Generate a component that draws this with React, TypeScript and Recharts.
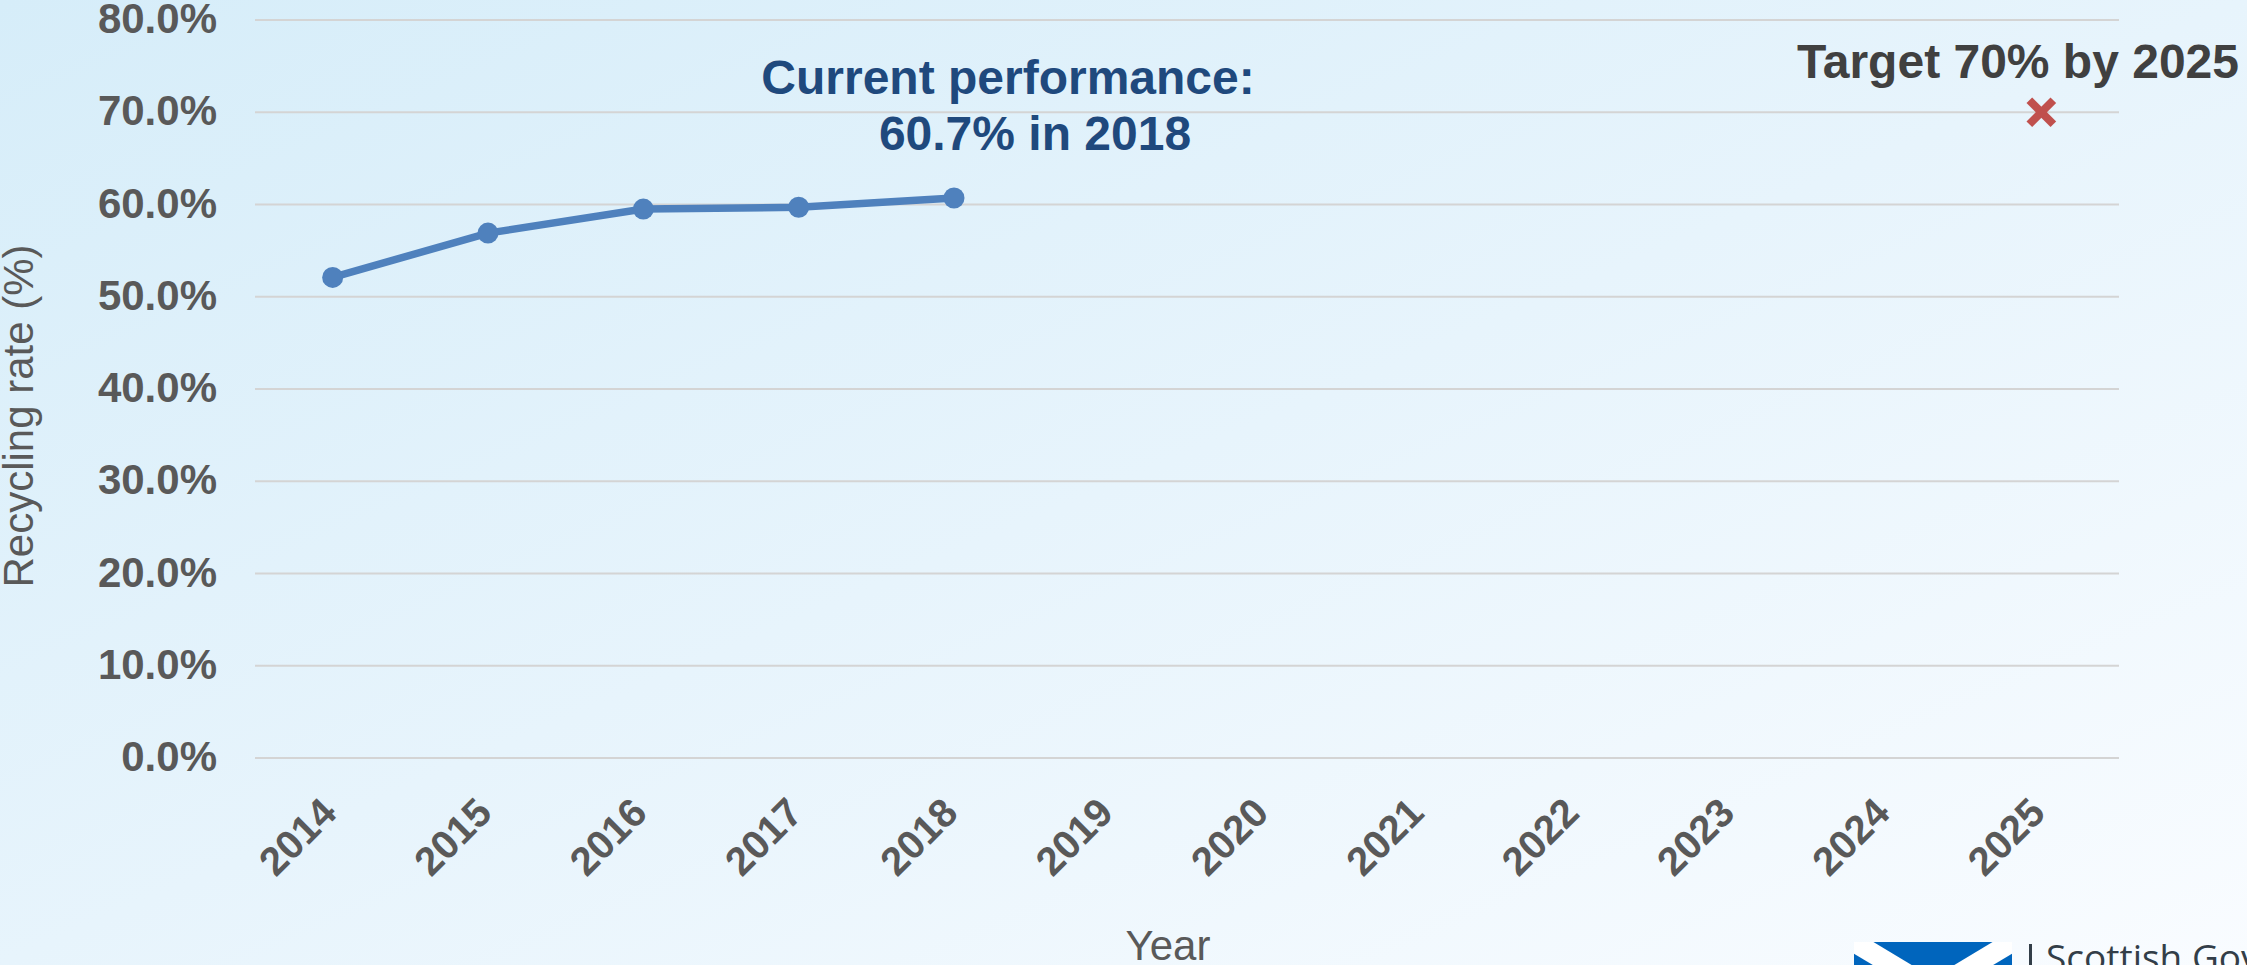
import React from 'react';
import { ComposedChart, Line, XAxis, YAxis, CartesianGrid, Customized } from 'recharts';

const years = ['2014', '2015', '2016', '2017', '2018', '2019', '2020', '2021', '2022', '2023', '2024', '2025'];
const recyclingRate: (number | null)[] = [52.1, 56.9, 59.5, 59.7, 60.7, null, null, null, null, null, null, null];
const targetRate: (number | null)[] = [null, null, null, null, null, null, null, null, null, null, null, 70];
const yTicks = [0, 10, 20, 30, 40, 50, 60, 70, 80];

const data = years.map((year, i) => ({ year, rate: recyclingRate[i], target: targetRate[i] }));

const FONT = '"Liberation Sans", Arial, Helvetica, sans-serif';

// half a category band (plot width 1864 / 12 categories / 2) so points sit at band centres like Excel
const HALF_BAND = 1864 / 24;

const YTick = (props: any) => {
  const { x, y, payload } = props;
  return (
    <text x={x - 38} y={y} dy={13} textAnchor="end" fontSize={42} fontWeight="bold" fill="#595959" fontFamily={FONT}>
      {Number(payload.value).toFixed(1)}%
    </text>
  );
};

const XTick = (props: any) => {
  const { x, y, payload } = props;
  const ax = x + 6;
  const ay = y + 57;
  return (
    <text x={ax} y={ay} transform={`rotate(-45, ${ax}, ${ay})`} textAnchor="end" fontSize={40} fontWeight="bold" fill="#595959" fontFamily={FONT}>
      {payload.value}
    </text>
  );
};

const TargetMark = (props: any) => {
  const { cx, cy, value, index } = props;
  if (value == null || cx == null || cy == null) return <g key={`t-${index}`} />;
  const s = 12;
  return (
    <g key={`t-${index}`}>
      <line x1={cx - s} y1={cy - s} x2={cx + s} y2={cy + s} stroke="#C0504D" strokeWidth={8} />
      <line x1={cx - s} y1={cy + s} x2={cx + s} y2={cy - s} stroke="#C0504D" strokeWidth={8} />
    </g>
  );
};

const Annotations = () => (
  <g fontFamily={FONT}>
    <text transform="translate(33,416) rotate(-90)" textAnchor="middle" fontSize={42} fill="#595959">
      Recycling rate (%)
    </text>
    <text x={1168} y={960} textAnchor="middle" fontSize={42} fill="#595959">
      Year
    </text>
    <text x={1008} y={94} textAnchor="middle" fontSize={48} fontWeight="bold" fill="#1F497D">
      Current performance:
    </text>
    <text x={1035} y={150} textAnchor="middle" fontSize={48} fontWeight="bold" fill="#1F497D">
      60.7% in 2018
    </text>
    <text x={2018} y={78} textAnchor="middle" fontSize={48} fontWeight="bold" fill="#404040">
      Target 70% by 2025
    </text>
    <defs>
      <clipPath id="flagClip">
        <rect x={1854} y={942} width={158} height={95} />
      </clipPath>
    </defs>
    <g clipPath="url(#flagClip)">
      <rect x={1854} y={942} width={158} height={95} fill="#0065BD" />
      <line x1={1854} y1={942} x2={2012} y2={1037} stroke="#FFFFFF" strokeWidth={20} />
      <line x1={2012} y1={942} x2={1854} y2={1037} stroke="#FFFFFF" strokeWidth={20} />
    </g>
    <rect x={2029} y={944} width={3} height={30} fill="#333E48" />
    <text x={2046} y={971} fontSize={37} fontWeight={500} fill="#333E48" fontFamily='"Open Sans", "Noto Sans", sans-serif'>
      Scottish Government
    </text>
  </g>
);

export default function App() {
  return (
    <div
      style={{
        position: 'absolute',
        left: 0,
        top: 0,
        width: 2247,
        height: 965,
        overflow: 'hidden',
        background: 'linear-gradient(to bottom right, #D6EDF9 0%, #E7F4FC 50%, #F9FCFF 100%)',
      }}
    >
      <ComposedChart width={2247} height={965} data={data} margin={{ top: 20, right: 128, bottom: 0, left: 0 }}>
        <CartesianGrid vertical={false} stroke="#D4D4D4" strokeWidth={2} />
        <XAxis
          dataKey="year"
          interval={0}
          height={207}
          padding={{ left: HALF_BAND, right: HALF_BAND }}
          axisLine={false}
          tickLine={false}
          tickSize={0}
          tickMargin={0}
          tick={<XTick />}
        />
        <YAxis
          width={255}
          domain={[0, 80]}
          ticks={yTicks}
          interval={0}
          axisLine={false}
          tickLine={false}
          tickSize={0}
          tickMargin={0}
          tick={<YTick />}
        />
        <Line
          type="linear"
          dataKey="rate"
          stroke="#4F81BD"
          strokeWidth={7.5}
          dot={{ r: 10.5, fill: '#4F81BD', stroke: 'none' }}
          isAnimationActive={false}
        />
        <Line
          type="linear"
          dataKey="target"
          stroke="none"
          dot={TargetMark}
          activeDot={false}
          isAnimationActive={false}
        />
        <Customized component={Annotations} />
      </ComposedChart>
    </div>
  );
}
